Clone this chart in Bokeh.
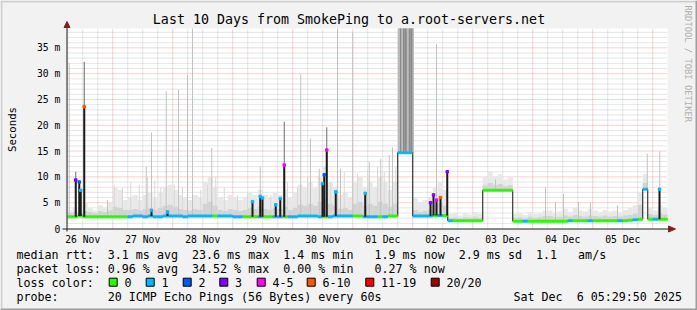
from math import pi
from bokeh.plotting import figure
from bokeh.models import Range1d, ColumnDataSource
from bokeh.core.properties import value
from bokeh.embed import file_html
from bokeh.resources import INLINE

# ------------------------------------------------------------------ data
title_text = "Last 10 Days from SmokePing to a.root-servers.net"
day_labels = ["26 Nov", "27 Nov", "28 Nov", "29 Nov", "30 Nov",
              "01 Dec", "02 Dec", "03 Dec", "04 Dec", "05 Dec"]
label_hours = [12, 36, 60, 84, 108, 132, 156, 180, 204, 228]     # noon, hours since 26 Nov 00:00
midnight_hours = [24, 48, 72, 96, 120, 144, 168, 192, 216, 240]
y_ticks = [0, 5, 10, 15, 20, 25, 30, 35]
y_tick_labels = ["0", "5 m", "10 m", "15 m", "20 m", "25 m", "30 m", "35 m"]

bin_start_hour = 6   # 2-hour bins starting 26 Nov 06:00
median_ms = [
    2.3, 2.3, 2.4, 2.3, 2.3, 2.3, 2.3, 2.3, 2.3, 2.3,
    2.3, 2.3, 2.3, 2.4, 2.4, 2.3, 2.4, 2.3, 2.3, 2.4,
    2.4, 2.4, 2.4, 2.3, 2.4, 2.4, 2.4, 2.4, 2.4, 2.4,
    2.4, 2.4, 2.4, 2.3, 2.3, 2.3, 2.3, 2.3, 2.3, 2.3,
    2.3, 2.3, 2.3, 2.3, 2.3, 2.3, 2.4, 2.4, 2.4, 2.4,
    2.3, 2.3, 2.3, 2.4, 2.4, 2.4, 2.4, 2.4, 2.4, 2.3,
    2.3, 2.3, 2.3, 2.3, 2.4, 2.4, 14.7, 14.7, 14.7, 2.4,
    2.4, 2.4, 2.4, 2.5, 2.5, 2.5, 1.5, 1.5, 1.5, 1.5,
    1.5, 1.5, 1.5, 7.4, 7.4, 7.4, 7.4, 7.4, 7.4, 1.4,
    1.4, 1.4, 1.4, 1.4, 1.4, 1.4, 1.4, 1.4, 1.4, 1.4,
    1.5, 1.5, 1.5, 1.5, 1.5, 1.5, 1.5, 1.5, 1.5, 1.5,
    1.5, 1.5, 1.6, 1.7, 1.8, 7.6, 1.8, 1.8, 1.8, 1.8]
loss_idx = [
    0, 0, 0, 0, 0, 0, 0, 0, 0, 0,
    0, 0, 1, 1, 1, 1, 1, 1, 1, 1,
    1, 1, 1, 1, 1, 1, 1, 1, 1, 0,
    1, 1, 1, 1, 1, 0, 0, 0, 1, 0,
    0, 1, 1, 0, 1, 1, 1, 1, 1, 1,
    1, 0, 1, 1, 1, 1, 1, 0, 0, 1,
    1, 1, 0, 1, 0, 0, 1, 1, 1, 1,
    1, 1, 1, 0, 1, 0, 1, 0, 0, 0,
    0, 0, 0, 0, 0, 0, 0, 0, 0, 0,
    0, 1, 0, 0, 0, 0, 0, 0, 0, 0,
    1, 0, 0, 0, 1, 0, 0, 0, 0, 0,
    1, 0, 0, 1, 0, 1, 0, 1, 0, 0]
smoke_hi_ms = [
    3.5, 4.0, 3.5, 5.0, 4.0, 3.5, 4.5, 4.0, 5.0, 8.0,
    7.5, 5.5, 6.0, 6.5, 5.5, 6.5, 7.0, 6.0, 7.0, 8.0,
    8.5, 7.5, 6.5, 6.0, 5.5, 6.5, 6.0, 9.0, 10.0, 8.0,
    6.0, 5.5, 6.5, 6.0, 5.5, 6.0, 7.0, 6.5, 7.5, 6.5,
    6.0, 7.0, 6.5, 7.5, 6.0, 7.0, 8.5, 8.0, 9.0, 8.0,
    10.0, 12.0, 9.0, 8.0, 6.5, 7.0, 6.0, 9.0, 10.0, 8.0,
    9.0, 8.0, 10.0, 9.0, 7.5, 9.0, 38.75, 38.75, 38.75, 6.0,
    5.0, 5.5, 6.0, 8.0, 9.0, 7.5, 2.8, 3.0, 2.5, 3.0,
    2.7, 3.2, 2.8, 10.0, 11.0, 10.0, 10.5, 9.5, 10.0, 2.8,
    3.0, 2.6, 3.2, 2.8, 3.0, 3.5, 3.5, 3.0, 3.3, 3.8,
    3.2, 4.0, 3.5, 3.3, 3.8, 3.5, 3.2, 3.6, 3.3, 3.5,
    3.2, 3.6, 4.0, 4.5, 7.0, 10.5, 4.0, 3.5, 4.5, 4.0]
smoke_mid_ms = [
    3.0, 3.2, 3.0, 3.4, 3.2, 3.0, 3.4, 3.2, 3.5, 4.2, 4.0, 3.6,
    3.6, 3.8, 3.5, 3.8, 4.0, 3.6, 4.0, 4.4, 4.6, 4.2, 3.8, 3.6,
    3.5, 3.8, 3.6, 4.8, 5.2, 4.4, 3.6, 3.4, 3.8, 3.6, 3.4, 3.6,
    4.0, 3.8, 4.2, 3.8, 3.6, 4.0, 3.8, 4.2, 3.6, 4.0, 4.6, 4.4,
    4.8, 4.4, 5.2, 6.0, 4.8, 4.4, 3.8, 4.0, 3.6, 4.8, 5.2, 4.4,
    4.8, 4.4, 5.2, 4.8, 4.2, 4.8,
    38.75, 38.75, 38.75,
    3.6, 3.2, 3.4, 3.6, 4.6, 5.0, 4.4,
    2.1, 2.2, 2.0, 2.2, 2.1, 2.3, 2.1,
    8.4, 8.8, 8.4, 8.6, 8.2, 8.4,
    2.1, 2.2, 2.0, 2.3, 2.1, 2.2, 2.4, 2.4, 2.2, 2.3, 2.5,
    2.3, 2.6, 2.4, 2.3, 2.5, 2.4, 2.3, 2.5, 2.3, 2.4, 2.3, 2.5, 2.6, 2.9,
    4.5, 8.8, 2.8, 2.6, 2.9, 2.7]

# 01 Dec high-latency block (hours) and streaks inside it
block_start_hour, block_end_hour, block_base_ms = 138.2, 144.5, 14.7
block_dark_hour = [139.0, 140.4, 141.2, 142.8, 143.6]
block_light_hour = [138.6, 139.8, 142.0, 144.2]

# median bursts (black bars) with loss colour dot on top
burst_hour = [9.2, 10.6, 11.2, 12.6, 39.5, 45.9, 79.9, 83.0, 83.9, 89.2, 91.0, 92.6,
              107.9, 108.6, 109.6, 113.2, 125.0, 151.1, 152.3, 153.5, 155.1, 157.8, 242.7]
burst_top_ms = [9.4, 9.0, 7.4, 23.6, 3.5, 3.2, 5.2, 6.2, 5.9, 4.6, 5.8, 12.3,
                8.7, 10.4, 15.2, 7.1, 6.8, 5.0, 6.5, 5.5, 6.0, 11.0, 7.6]
burst_loss = [3, 2, 1, 5, 1, 1, 1, 1, 1, 1, 1, 4,
              1, 2, 4, 1, 1, 3, 3, 4, 5, 3, 1]

# dark-grey smoke above bursts
dark_hour = [9.2, 12.6, 92.6, 109.6]
dark_top_ms = [11.0, 32.3, 20.7, 19.6]

# single tall pings in the smoke (light grey)
ping_hour = [6.6, 21.9, 37.4, 39.5, 45.4, 50.3, 53.9, 55.9, 63.6, 83.0,
             99.2, 103.1, 106.6, 113.9, 115.1, 120.0, 126.6, 131.2, 134.6, 135.9,
             153.5, 177.1, 197.1, 201.1, 204.3, 210.3, 215.1, 225.9, 237.8, 242.8]
ping_top_ms = [32.0, 5.5, 12.0, 18.6, 26.6, 27.0, 29.7, 38.75, 15.6, 12.0,
               29.9, 17.4, 11.6, 38.75, 11.6, 38.0, 12.9, 13.5, 14.2, 15.7,
               35.7, 9.5, 8.0, 5.2, 6.7, 5.2, 5.0, 4.5, 14.5, 15.0]

# medium pings giving the smoke its texture (very light grey)
texture_hour = [24.6, 27.9, 31.2, 34.6, 37.9, 40.8, 43.2, 48.6, 51.9, 59.2,
                61.9, 65.2, 68.6, 73.9, 77.9, 87.2, 93.9, 97.9, 101.9, 111.2,
                116.6, 121.9, 125.9, 129.9, 132.6, 137.2]
texture_top_ms = [8.4, 8.0, 9.0, 8.5, 10.0, 9.3, 8.0, 8.5, 8.0, 7.5,
                  8.5, 10.0, 8.0, 6.5, 7.0, 6.5, 9.0, 8.0, 10.0, 9.0,
                  11.0, 10.5, 11.5, 12.0, 11.0, 12.0]

loss_labels = ["0", "1", "2", "3", "4-5", "6-10", "11-19", "20/20"]
loss_colors = ["#26ff00", "#00b8ff", "#0059ff", "#7e00ff", "#ff00ff",
               "#ff5500", "#ff0000", "#a10000"]

legend_rows = [
    [(0, "median rtt:"), (13, "3.1 ms avg"), (25, "23.6 ms max"), (38, "1.4 ms min"),
     (51, "1.9 ms now"), (63, "2.9 ms sd"), (74, "1.1"), (80, "am/s")],
    [(0, "packet loss:"), (13, "0.96 % avg"), (25, "34.52 % max"), (38, "0.00 % min"),
     (51, "0.27 % now")],
    [(0, "loss color:")],
    [(0, "probe:"), (13, "20 ICMP Echo Pings (56 Bytes) every 60s")],
]
date_parts = [(0, "Sat Dec"), (9, "6 05:29:50 2025")]

# ------------------------------------------------------------------ layout
W, H = 697, 310
FL, FR, FT, FB = 67, 667, 28, 228          # plot area in canvas pixels
X0, X1 = 5.9, 245.9                         # hours shown (26 Nov 05:54 .. 6 Dec 05:54)
Y0, Y1 = 0.0, 38.75                         # ms shown
SX = (X1 - X0) / (FR - FL)
SY = (Y1 - Y0) / (FB - FT)
MONO = "DejaVu Sans Mono"


def cx(px):
    return X0 + (px - FL) * SX


def cy(py):
    return Y0 + (FB - py) * SY


p = figure(width=W, height=H, x_range=Range1d(cx(0), cx(W)), y_range=Range1d(cy(H), cy(0)),
           output_backend="svg", toolbar_location=None,
           x_axis_location=None, y_axis_location=None,
           min_border=0, min_border_left=0, min_border_right=0,
           min_border_top=0, min_border_bottom=0)
p.title.visible = False
p.background_fill_color = "#f2f2f2"
p.border_fill_color = "#f2f2f2"
p.outline_line_color = None
p.grid.visible = False

# 3D frame shading of the image
p.quad(left=[cx(0), cx(0), cx(695), cx(0)], right=[cx(W), cx(2), cx(W), cx(W)],
       top=[cy(0), cy(0), cy(0), cy(308)], bottom=[cy(2), cy(H), cy(H), cy(H)],
       fill_color=["#cfcfcf", "#cfcfcf", "#9e9e9e", "#9e9e9e"], line_color=None)

# canvas (plot area)
p.quad(left=[X0], right=[X1], bottom=[Y0], top=[Y1], fill_color="white", line_color=None)

# grids
minor_x = [h for h in range(6, 246, 6) if h % 24 != 0]
minor_y = [v for v in range(1, 39) if v % 5 != 0]
major_y = y_ticks[1:]
p.segment(x0=minor_x, x1=minor_x, y0=[Y0] * len(minor_x), y1=[Y1] * len(minor_x),
          line_color="#8f8f8f", line_alpha=0.45, line_dash="1 1", line_width=1)
p.segment(x0=[X0] * len(minor_y), x1=[X1] * len(minor_y), y0=minor_y, y1=minor_y,
          line_color="#8f8f8f", line_alpha=0.45, line_dash="1 1", line_width=1)
p.segment(x0=midnight_hours, x1=midnight_hours, y0=[Y0] * len(midnight_hours),
          y1=[Y1] * len(midnight_hours),
          line_color="#de4f4f", line_alpha=0.5, line_dash="1 1", line_width=1)
p.segment(x0=[X0] * len(major_y), x1=[X1] * len(major_y), y0=major_y, y1=major_y,
          line_color="#de4f4f", line_alpha=0.5, line_dash="1 1", line_width=1)

# smoke
n = len(median_ms)
left = [bin_start_hour + 2 * i for i in range(n)]
right = [min(l + 2, X1) for l in left]
src = ColumnDataSource(dict(left=left, right=right, med=median_ms, hi=smoke_hi_ms,
                            mid=smoke_mid_ms,
                            color=[loss_colors[c] for c in loss_idx]))
p.quad(left="left", right="right", bottom="med", top="hi", source=src,
       fill_color="#e8e8e8", line_color=None)


def base_at(h):
    i = int((h - bin_start_hour) // 2)
    i = max(0, min(n - 1, i))
    return median_ms[i]


p.segment(x0=texture_hour, x1=texture_hour, y0=[base_at(h) for h in texture_hour],
          y1=texture_top_ms, line_color="#d8d8d8", line_width=1)
p.quad(left="left", right="right", bottom="med", top="mid", source=src,
       fill_color="#d3d3d3", line_color=None)

p.quad(left=[block_start_hour], right=[block_end_hour], bottom=[block_base_ms], top=[Y1],
       fill_color="#ababab", line_color=None)
p.segment(x0=block_dark_hour, x1=block_dark_hour, y0=[block_base_ms] * len(block_dark_hour),
          y1=[Y1] * len(block_dark_hour), line_color="#8a8a8a", line_width=1.5)
p.segment(x0=block_light_hour, x1=block_light_hour, y0=[block_base_ms] * len(block_light_hour),
          y1=[Y1] * len(block_light_hour), line_color="#c4c4c4", line_width=1)

p.segment(x0=ping_hour, x1=ping_hour, y0=[base_at(h) for h in ping_hour],
          y1=[min(t, Y1) for t in ping_top_ms], line_color="#c2c2c2", line_width=1)
p.segment(x0=dark_hour, x1=dark_hour, y0=[base_at(h) for h in dark_hour], y1=dark_top_ms,
          line_color="#6e6e6e", line_width=1)

# median line
p.step(x=left + [right[-1]], y=median_ms + [median_ms[-1]], mode="after",
       line_color="#111111", line_width=1)
p.segment(x0="left", x1="right", y0="med", y1="med", source=src,
          line_color="color", line_width=3)
p.segment(x0=burst_hour, x1=burst_hour, y0=[base_at(h) for h in burst_hour], y1=burst_top_ms,
          line_color="#1a1a1a", line_width=2)
p.scatter(x=burst_hour, y=burst_top_ms, marker="square", size=2.5,
          color=[loss_colors[c] for c in burst_loss])

# axes: lines and arrow heads
p.segment(x0=[cx(62), cx(66.5)], x1=[cx(669), cx(66.5)],
          y0=[cy(228.5), cy(231)], y1=[cy(228.5), cy(26)],
          line_color="#1f1f1f", line_width=1)
p.patches(xs=[[cx(668), cx(675), cx(668)], [cx(63.5), cx(66.5), cx(69.5)]],
          ys=[[cy(225.5), cy(228.5), cy(231.5)], [cy(27), cy(21), cy(27)]],
          fill_color="#801f1f", line_color="#801f1f")

# tick labels
p.text(x=label_hours, y=[cy(238.5)] * len(label_hours), text=day_labels,
       text_align="center", text_baseline="middle", text_font=value(MONO),
       text_font_size=value("9.7px"), text_color="black")
p.text(x=[cx(59.8)] * len(y_ticks), y=y_ticks, text=y_tick_labels,
       text_align="right", text_baseline="middle", text_font=value(MONO),
       text_font_size=value("9.7px"), text_color="black")

# title and side texts
p.text(x=[cx(348.5)], y=[cy(19)], text=[title_text], text_align="center",
       text_baseline="middle", text_font=value(MONO), text_font_size=value("13.3px"),
       text_color="black")
p.text(x=[cx(12)], y=[cy(129)], text=["Seconds"], angle=pi / 2, text_align="center",
       text_baseline="middle", text_font=value(MONO), text_font_size=value("10.7px"),
       text_color="black")
p.text(x=[cx(687)], y=[cy(5)], text=["RRDTOOL / TOBI OETIKER"], angle=-pi / 2,
       text_align="left", text_baseline="middle", text_font=value(MONO),
       text_font_size=value("8.8px"), text_color="#b0b0b0")

# legend
ADV = 7.02
row_y = [254.3, 268.3, 282.3, 296.0]
lx, ly, lt = [], [], []
for ry, row in zip(row_y, legend_rows):
    for col, txt in row:
        lx.append(cx(16 + col * ADV))
        ly.append(cy(ry))
        lt.append(txt)
for col, txt in date_parts:
    lx.append(cx(513 + col * ADV))
    ly.append(cy(296.0))
    lt.append(txt)
box_px = [108.7, 145.7, 182.7, 219.3, 256.7, 306.7, 365.3, 430.7]
for bx, lab in zip(box_px, loss_labels):
    lx.append(cx(bx + 15.3))
    ly.append(cy(282.3))
    lt.append(lab)
p.text(x=lx, y=ly, text=lt, text_align="left", text_baseline="middle",
       text_font=value(MONO), text_font_size=value("11.66px"), text_color="black")
p.quad(left=[cx(b) for b in box_px], right=[cx(b + 8) for b in box_px],
       top=[cy(277.7)] * len(box_px), bottom=[cy(285.7)] * len(box_px),
       fill_color=loss_colors, line_color="black", line_width=1)

open("out.html", "w").write(file_html(p, INLINE))
